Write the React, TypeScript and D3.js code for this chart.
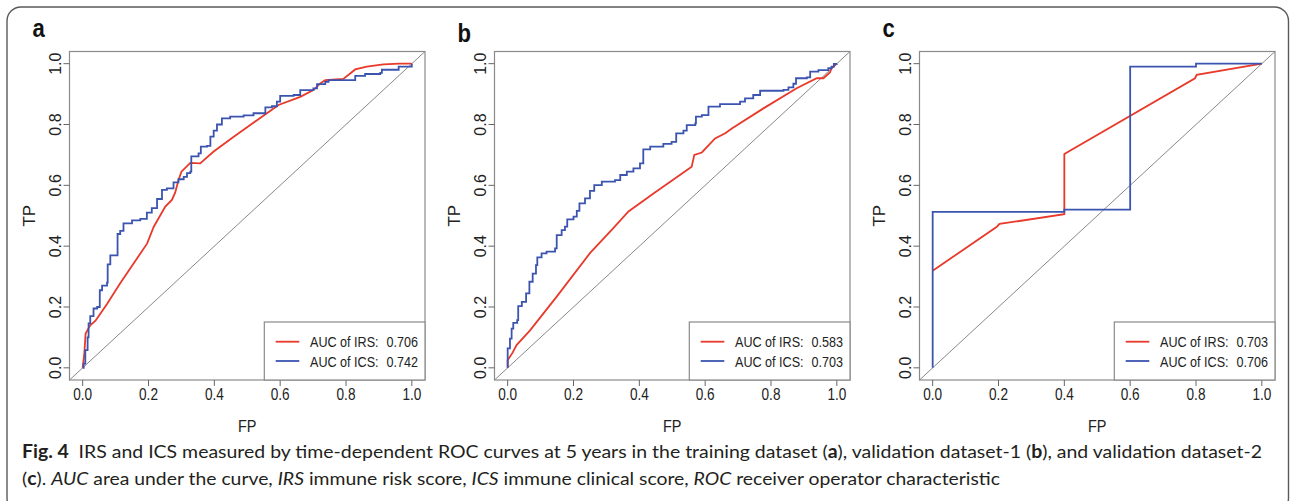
import { useEffect, useRef } from 'react';
import * as d3 from 'd3';

type Pt = [number, number];

// panel a: training dataset
const aIRS: Pt[] = [[0, 0], [0.005, 0.047], [0.009, 0.113], [0.023, 0.14], [0.039, 0.155], [0.074, 0.21], [0.114, 0.278], [0.196, 0.409], [0.216, 0.464], [0.251, 0.53], [0.271, 0.552], [0.281, 0.576], [0.291, 0.617], [0.3, 0.645], [0.327, 0.674], [0.357, 0.672], [0.398, 0.711], [0.459, 0.76], [0.595, 0.864], [0.661, 0.891], [0.701, 0.913], [0.722, 0.935], [0.737, 0.946], [0.792, 0.95], [0.828, 0.981], [0.863, 0.99], [0.914, 0.998], [0.962, 1], [1, 1]];
const aICS: Pt[] = [[0, 0], [0.003, 0.014], [0.008, 0.058], [0.015, 0.1], [0.018, 0.146], [0.023, 0.17], [0.033, 0.195], [0.044, 0.2], [0.052, 0.255], [0.059, 0.27], [0.074, 0.28], [0.076, 0.34], [0.084, 0.37], [0.099, 0.37], [0.106, 0.44], [0.114, 0.45], [0.124, 0.475], [0.15, 0.485], [0.175, 0.49], [0.195, 0.51], [0.21, 0.525], [0.226, 0.555], [0.241, 0.585], [0.256, 0.59], [0.276, 0.61], [0.291, 0.62], [0.307, 0.628], [0.317, 0.64], [0.327, 0.645], [0.33, 0.695], [0.352, 0.705], [0.359, 0.727], [0.378, 0.73], [0.388, 0.76], [0.398, 0.78], [0.408, 0.8], [0.423, 0.82], [0.448, 0.826], [0.489, 0.83], [0.519, 0.837], [0.545, 0.837], [0.555, 0.856], [0.575, 0.86], [0.59, 0.875], [0.6, 0.894], [0.641, 0.897], [0.661, 0.913], [0.701, 0.919], [0.712, 0.933], [0.737, 0.94], [0.747, 0.946], [0.813, 0.946], [0.828, 0.96], [0.858, 0.966], [0.904, 0.97], [0.909, 0.98], [0.949, 0.98], [0.96, 0.99], [1, 1]];

// panel b: validation dataset-1
const bIRS: Pt[] = [[0, 0], [0, 0.025], [0.015, 0.05], [0.027, 0.075], [0.068, 0.123], [0.149, 0.234], [0.25, 0.377], [0.321, 0.459], [0.367, 0.514], [0.443, 0.573], [0.559, 0.661], [0.567, 0.7], [0.59, 0.708], [0.63, 0.754], [0.661, 0.771], [0.681, 0.787], [0.777, 0.853], [0.878, 0.919], [0.939, 0.952], [0.959, 0.952], [0.979, 0.971], [0.984, 0.985], [1, 1]];
const bICS: Pt[] = [[0, 0], [0, 0.064], [0.007, 0.096], [0.012, 0.129], [0.017, 0.148], [0.029, 0.157], [0.032, 0.203], [0.043, 0.217], [0.056, 0.245], [0.066, 0.283], [0.076, 0.31], [0.086, 0.338], [0.09, 0.363], [0.103, 0.376], [0.118, 0.382], [0.144, 0.393], [0.149, 0.436], [0.164, 0.453], [0.174, 0.464], [0.181, 0.488], [0.2, 0.497], [0.21, 0.516], [0.218, 0.541], [0.235, 0.557], [0.25, 0.582], [0.263, 0.601], [0.286, 0.612], [0.326, 0.617], [0.342, 0.634], [0.362, 0.645], [0.382, 0.656], [0.402, 0.672], [0.412, 0.718], [0.433, 0.727], [0.473, 0.736], [0.498, 0.743], [0.512, 0.771], [0.534, 0.78], [0.544, 0.798], [0.57, 0.804], [0.572, 0.826], [0.59, 0.831], [0.61, 0.859], [0.645, 0.867], [0.706, 0.875], [0.721, 0.886], [0.746, 0.897], [0.767, 0.911], [0.838, 0.914], [0.853, 0.922], [0.868, 0.934], [0.876, 0.952], [0.909, 0.955], [0.919, 0.974], [0.944, 0.979], [0.974, 0.985], [0.984, 0.99], [0.991, 0.999], [1, 1]];

// panel c: validation dataset-2
const cIRS: Pt[] = [[0, 0.319], [0.195, 0.464], [0.203, 0.473], [0.4, 0.505], [0.4, 0.703], [0.797, 0.952], [0.802, 0.963], [1, 1]];
const cICS: Pt[] = [[0, 0], [0, 0.513], [0.4, 0.52], [0.6, 0.99], [0.8, 1], [1, 1]];

const panelLetters = ['a', 'b', 'c'];
const aucIRS = ['0.706', '0.583', '0.703'];
const aucICS = ['0.742', '0.703', '0.706'];
const ticks = [0, 0.2, 0.4, 0.6, 0.8, 1.0];

const RED = '#e8392a';
const BLUE = '#3b54b0';
const GREY = '#8a8a8a';
const INK = '#222';
const SQ = 0.85;

export default function App() {
  const svgRef = useRef<SVGSVGElement>(null);

  useEffect(() => {
    if (!svgRef.current) return;
    const svg = d3.select(svgRef.current);
    svg.selectAll('*').remove();

    svg.append('rect')
      .attr('x', 7).attr('y', 7)
      .attr('width', 1281.5).attr('height', 505)
      .attr('rx', 14)
      .attr('fill', 'none')
      .attr('stroke', '#5a5a5a')
      .attr('stroke-width', 1.4);

    const series = [[aIRS, aICS], [bIRS, bICS], [cIRS, cICS]];
    const lefts = [69.5, 494.5, 919.5];
    const letterY = [37, 42, 37];
    const boxW = 355.5;
    const top = 51.5;
    const bottom = 380;

    lefts.forEach((left, i) => {
      const x = d3.scaleLinear().domain([-0.04, 1.04]).range([left, left + boxW]);
      const y = d3.scaleLinear().domain([-0.04, 1.04]).range([bottom, top]);
      const g = svg.append('g').attr('font-family', '"Liberation Sans", Arial, sans-serif');

      // panel letter
      g.append('text')
        .attr('transform', `translate(${left - 37},${letterY[i]}) scale(${SQ},1)`)
        .attr('font-size', 26)
        .attr('font-weight', 700)
        .attr('fill', '#111')
        .text(panelLetters[i]);

      // diagonal
      g.append('line')
        .attr('x1', x(-0.04)).attr('y1', y(-0.04))
        .attr('x2', x(1.04)).attr('y2', y(1.04))
        .attr('stroke', '#7a7a7a')
        .attr('stroke-width', 0.9);

      const line = d3.line<Pt>().x(d => x(d[0])).y(d => y(d[1]));
      const stepLine = d3.line<Pt>().x(d => x(d[0])).y(d => y(d[1])).curve(d3.curveStepAfter);

      g.append('path')
        .attr('d', line(series[i][0]))
        .attr('fill', 'none')
        .attr('stroke', RED)
        .attr('stroke-width', 1.8);

      g.append('path')
        .attr('d', stepLine(series[i][1]))
        .attr('fill', 'none')
        .attr('stroke', BLUE)
        .attr('stroke-width', 1.8);

      // box
      g.append('rect')
        .attr('x', left).attr('y', top)
        .attr('width', boxW).attr('height', bottom - top)
        .attr('fill', 'none')
        .attr('stroke', GREY)
        .attr('stroke-width', 1.2);

      // axis ticks
      ticks.forEach(t => {
        g.append('line')
          .attr('x1', x(t)).attr('x2', x(t))
          .attr('y1', bottom).attr('y2', bottom + 6)
          .attr('stroke', '#666').attr('stroke-width', 1);
        g.append('text')
          .attr('transform', `translate(${x(t)},400) scale(${SQ},1)`)
          .attr('text-anchor', 'middle')
          .attr('font-size', 16)
          .attr('fill', INK)
          .text(d3.format('.1f')(t));
        g.append('line')
          .attr('y1', y(t)).attr('y2', y(t))
          .attr('x1', left).attr('x2', left - 6)
          .attr('stroke', '#666').attr('stroke-width', 1);
        g.append('text')
          .attr('transform', `translate(${left - 9},${y(t)}) rotate(-90)`)
          .attr('text-anchor', 'middle')
          .attr('font-size', 16)
          .attr('fill', INK)
          .text(d3.format('.1f')(t));
      });

      g.append('text')
        .attr('transform', `translate(${x(0.5)},432) scale(${SQ},1)`)
        .attr('text-anchor', 'middle')
        .attr('font-size', 17)
        .attr('fill', INK)
        .text('FP');

      g.append('text')
        .attr('transform', `translate(${left - 35},${y(0.5)}) rotate(-90)`)
        .attr('text-anchor', 'middle')
        .attr('font-size', 17)
        .attr('fill', INK)
        .text('TP');

      // legend
      const lx = left + boxW - 160.7;
      g.append('rect')
        .attr('x', lx).attr('y', 322)
        .attr('width', 160.7).attr('height', bottom - 322)
        .attr('fill', 'white')
        .attr('stroke', GREY)
        .attr('stroke-width', 1.2);
      [[RED, 'AUC of IRS:', aucIRS[i]], [BLUE, 'AUC of ICS:', aucICS[i]]].forEach(([col, lab, val], k) => {
        const ly = 341.7 + k * 19.3;
        g.append('line')
          .attr('x1', lx + 11.4).attr('x2', lx + 35)
          .attr('y1', ly).attr('y2', ly)
          .attr('stroke', col).attr('stroke-width', 1.8);
        g.append('text')
          .attr('transform', `translate(${lx + 45.7},${ly + 5.5}) scale(0.84,1)`)
          .attr('font-size', 15)
          .attr('fill', INK)
          .text(lab);
        g.append('text')
          .attr('transform', `translate(${left + boxW - 7},${ly + 5.5}) scale(0.84,1)`)
          .attr('text-anchor', 'end')
          .attr('font-size', 15)
          .attr('fill', INK)
          .text(val);
      });
    });

    // caption
    const cap = svg.append('g')
      .attr('font-family', 'Lato, "Open Sans", sans-serif')
      .attr('font-size', 18)
      .attr('fill', '#231f20');

    const l1 = cap.append('text')
      .attr('x', 22).attr('y', 458)
      .attr('textLength', 1240)
      .attr('lengthAdjust', 'spacingAndGlyphs');
    l1.append('tspan').attr('font-weight', 700).text('Fig. 4');
    l1.append('tspan').text('\u2002IRS and ICS measured by time-dependent ROC curves at 5 years in the training dataset (');
    l1.append('tspan').attr('font-weight', 700).text('a');
    l1.append('tspan').text('), validation dataset-1 (');
    l1.append('tspan').attr('font-weight', 700).text('b');
    l1.append('tspan').text('), and validation dataset-2');

    const l2 = cap.append('text')
      .attr('x', 22).attr('y', 485)
      .attr('textLength', 978)
      .attr('lengthAdjust', 'spacingAndGlyphs');
    l2.append('tspan').text('(');
    l2.append('tspan').attr('font-weight', 700).text('c');
    l2.append('tspan').text('). ');
    l2.append('tspan').attr('font-style', 'italic').text('AUC');
    l2.append('tspan').text(' area under the curve, ');
    l2.append('tspan').attr('font-style', 'italic').text('IRS');
    l2.append('tspan').text(' immune risk score, ');
    l2.append('tspan').attr('font-style', 'italic').text('ICS');
    l2.append('tspan').text(' immune clinical score, ');
    l2.append('tspan').attr('font-style', 'italic').text('ROC');
    l2.append('tspan').text(' receiver operator characteristic');
  }, []);

  return (
    <svg
      ref={svgRef}
      width={1290}
      height={501}
      style={{ position: 'absolute', left: 0, top: 0, background: 'white' }}
    />
  );
}
